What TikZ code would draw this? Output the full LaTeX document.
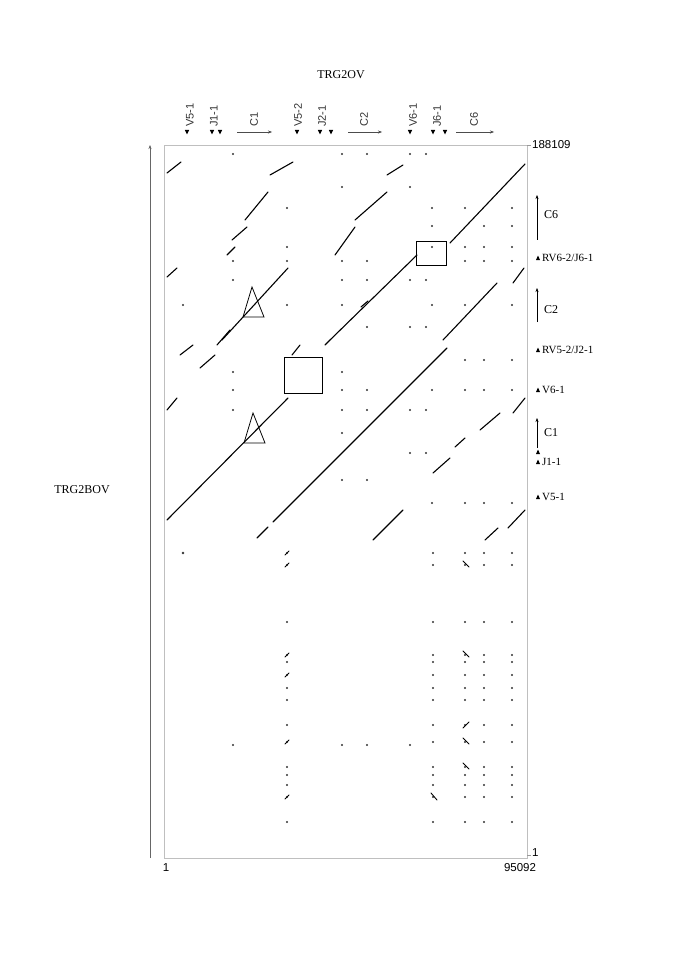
\documentclass[tikz,border=0pt]{standalone}
\usepackage{fontspec}
\setmainfont{Liberation Serif}
\newfontfamily\arial{Liberation Sans}
\usetikzlibrary{arrows.meta}
\begin{document}
\begin{tikzpicture}[x=1pt,y=-1pt,
  seg/.style={line width=1.1pt,line cap=round},
  dt/.style={fill=black!80},
  tri/.style={fill=black,draw=none},
  lab/.style={font=\fontsize{11}{13}\selectfont,anchor=west,inner sep=1pt},
  tlab/.style={font=\arial\fontsize{11}{13}\selectfont,text=black!80,rotate=90,anchor=west,inner sep=0pt},
  num/.style={font=\arial\fontsize{11.5}{13}\selectfont,inner sep=1pt}]
\useasboundingbox (0,0) rectangle (685,976);
\node[font=\fontsize{12}{14}\selectfont] (title) at (341,75) {TRG2OV};
\node[font=\fontsize{12}{14}\selectfont] (ylab) at (82,490) {TRG2BOV};
\draw[black!25] (164,145) rectangle (527,858);
\draw[black!60,-{Stealth[length=4pt]}] (150,858) -- (150,145);
% axis ticks
\draw[black!40] (527,145) -- (531,145);
\node[num,anchor=west] (ymax) at (531,145) {188109};
\draw[black!40] (527,855) -- (531,855);
\node[num,anchor=west] (ymin) at (531,853) {1};
\node[num,anchor=north] (xmin) at (166,862) {1};
\node[num,anchor=north] (xmax) at (520,862) {95092};
% top labels
\foreach \x/\t in {190/V5-1,214/J1-1,254/C1,298/V5-2,322/J2-1,364/C2,413/V6-1,437/J6-1,474/C6}
  \node[tlab] at (\x,127) {\t};
\foreach \x in {187,212,220,297,320,331,410,433,445}
  \fill[tri] (\x-2.2,130) -- (\x+2.2,130) -- (\x,134.5) -- cycle;
\foreach \a/\b in {237/272,348/382,456/494}
  \draw[black!70,-{Stealth[length=4pt]}] (\a,132) -- (\b,132);
% right labels
\draw[-{Stealth[length=4pt]}] (537,240) -- (537,195);
\node[lab,font=\fontsize{12}{14}\selectfont] at (543,215) {C6};
\draw[-{Stealth[length=4pt]}] (537,322) -- (537,288);
\node[lab,font=\fontsize{12}{14}\selectfont] at (543,310) {C2};
\draw[-{Stealth[length=4pt]}] (537,448) -- (537,418);
\node[lab,font=\fontsize{12}{14}\selectfont] at (543,433) {C1};
\foreach \y in {258,350,390,452,462,497}
  \fill[tri] (536,\y+2) -- (540,\y+2) -- (538,\y-2.5) -- cycle;
\node[lab] at (541,258) {RV6-2/J6-1};
\node[lab] at (541,350) {RV5-2/J2-1};
\node[lab] at (541,390) {V6-1};
\node[lab] at (541,462) {J1-1};
\node[lab] at (541,497) {V5-1};
% diagonal segments
\foreach \a/\b/\c/\d in {
 167/173/181/162, 270/175/293/162, 245/220/268/192, 232/240/247/227,
 227/255/235/247, 167/277/177/268, 222/340/288/268, 387/175/403/165,
 355/220/387/192, 335/255/355/227, 330/340/417/255, 450/243/525/164,
 443/340/497/283, 513/283/524/268, 217/345/230/330, 180/355/193/345,
 167/410/177/398, 167/520/288/398, 292/355/300/345, 325/345/330/340,
 257/538/268/527, 273/522/447/348, 373/540/403/510,
 433/473/450/458, 455/447/465/438, 480/430/500/413, 513/413/525/398,
 485/540/498/528, 508/528/525/510, 200/368/215/355, 361/307/368/301}
  \draw[seg] (\a,\b) -- (\c,\d);
% dots upper
\foreach \y/\xs in {154/{233,342,367,410,426}, 187/{342,410}, 208/{287,432,465,512},
  226/{432,484,512}, 247/{287,432,465,484,512}, 261/{233,287,342,367,465,484,512},
  280/{233,342,367,410,426}, 305/{183,287,342,432,465,512}, 327/{367,410,426},
  360/{465,484,512}, 372/{233,342}, 390/{233,342,367,432,465,484,512},
  410/{233,342,367,410,426}, 433/{342}, 453/{410,426}, 480/{342,367},
  503/{432,465,484,512}}
  \foreach \x in \xs \fill[dt] (\x,\y) circle (1.1);
% dots lower
\fill[dt] (183,553) circle (1.3);
\foreach \y in {553,565,622,655,662,675,688,700,725,742,767,775,785,797,822}
  \foreach \x in {287,433,465,484,512} \fill[dt] (\x,\y) circle (1.1);
\foreach \y in {565,655,742,767} \draw[seg,line width=0.9pt] (463,\y-4) -- (469,\y+2);
\foreach \y in {553,565,655,675,742,797} \draw[seg,line width=0.9pt] (285,\y+2) -- (289,\y-2);
\draw[seg,line width=0.9pt] (431,793) -- (437,800);
\draw[seg,line width=0.9pt] (463,728) -- (469,722);
\foreach \x in {233,342,367,410} \fill[dt] (\x,745) circle (1.1);
% marker shapes
\draw[thick] (284,357) rectangle (322,393);
\draw[thick] (416,241) rectangle (446,265);
\draw[thick] (252,287) -- (243,317) -- (264,317) -- cycle;
\draw[thick] (253,413) -- (244,443) -- (265,443) -- cycle;
\end{tikzpicture}
\end{document}
